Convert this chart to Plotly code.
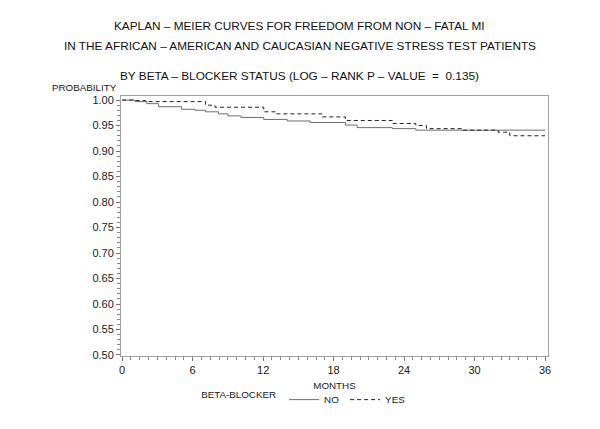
import plotly.graph_objects as go

# step points (month, survival probability)
no_months = [0, 1.1, 2.1, 3.1, 5.05, 6.2, 7.1, 8.2, 9.0, 10.1, 12.05, 14.05, 16.0, 19.0, 20.0, 23.0, 25.0, 36]
no_prob = [1.000, 0.997, 0.993, 0.987, 0.982, 0.980, 0.977, 0.973, 0.969, 0.966, 0.962, 0.959, 0.956,
           0.951, 0.946, 0.944, 0.941, 0.941]

yes_months = [0, 1.0, 2.0, 7.1, 7.9, 12.05, 13.1, 17.0, 19.0, 23.0, 25.0, 25.9, 29.0, 32.0, 33.0, 36]
yes_prob = [1.000, 0.999, 0.997, 0.990, 0.986, 0.977, 0.973, 0.967, 0.960, 0.954, 0.950, 0.944,
            0.941, 0.937, 0.930, 0.930]

x_ticks = [0, 6, 12, 18, 24, 30, 36]

FONT = "Liberation Sans, Arial, sans-serif"
INK = "#1a1a1a"

fig = go.Figure()

fig.add_trace(go.Scatter(
    x=no_months, y=no_prob, name="NO", mode="lines",
    line=dict(shape="hv", color="#6e6e6e", width=1),
))
fig.add_trace(go.Scatter(
    x=yes_months, y=yes_prob, name="YES", mode="lines",
    line=dict(shape="hv", color="#222222", width=1, dash="4px,3px"),
))

axis_style = dict(
    showline=True, linecolor="#a0a0a0", linewidth=1, mirror=True,
    showgrid=False, zeroline=False,
    ticks="outside", ticklen=4, tickcolor="#777777",
    tickfont=dict(size=11, color=INK),
)

fig.update_xaxes(
    range=[-0.1, 36.25], tickvals=x_ticks,
    minor=dict(dtick=0.75, tick0=0, ticks="outside", ticklen=3, tickcolor="#888888"),
    title=dict(text="MONTHS", font=dict(size=9.8, color=INK), standoff=6),
    **axis_style,
)
fig.update_yaxes(
    range=[0.498, 1.008], dtick=0.05, tick0=0.5, tickformat=".2f",
    minor=dict(dtick=0.01, tick0=0.5, ticks="outside", ticklen=3, tickcolor="#888888"),
    **axis_style,
)

title_lines = [
    ("KAPLAN – MEIER CURVES FOR FREEDOM FROM NON – FATAL MI", 70),
    ("IN THE AFRICAN – AMERICAN AND CAUCASIAN NEGATIVE STRESS TEST PATIENTS", 50),
    ("BY BETA – BLOCKER STATUS (LOG – RANK P – VALUE  =  0.135)", 20),
]
for text, shift in title_lines:
    fig.add_annotation(
        text=text, xref="paper", yref="paper", x=0.419, y=1, yshift=shift,
        xanchor="center", yanchor="middle", showarrow=False,
        font=dict(size=11.8, color="#111111", family=FONT),
    )

fig.add_annotation(
    text="PROBABILITY", xref="paper", yref="paper", x=0, y=1, xshift=-2, yshift=1,
    xanchor="right", yanchor="bottom", showarrow=False,
    font=dict(size=9.8, color=INK, family=FONT),
)

fig.update_layout(
    width=600, height=429,
    margin=dict(l=113, r=60, t=88, b=81),
    paper_bgcolor="white", plot_bgcolor="white",
    font=dict(family=FONT, color=INK, size=10),
    showlegend=True,
    legend=dict(
        orientation="h", x=0.183, xanchor="left", y=-0.112, yanchor="top",
        title=dict(text="BETA-BLOCKER", side="left", font=dict(size=9.8)),
        font=dict(size=9.8), entrywidth=16, entrywidthmode="pixels",
        bgcolor="rgba(0,0,0,0)",
    ),
)

fig.write_html("out.html")
